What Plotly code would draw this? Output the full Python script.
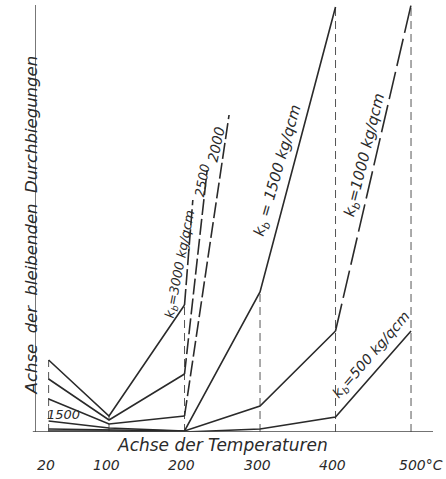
import plotly.graph_objects as go

# ---- data (temperature in °C, deflection in arbitrary units) ----
temps_3000 = [20, 100, 200, 211]
defl_3000 = [72, 16, 127, 232]
temps_2500 = [20, 100, 200, 230]
defl_2500 = [53, 12, 58, 262]
temps_2000 = [20, 100, 200, 259]
defl_2000 = [33, 8, 16, 317]
temps_1500 = [20, 100, 200, 300, 400]
defl_1500 = [11, 4, 1, 140, 425]
temps_1000 = [20, 100, 200, 300, 400, 500]
defl_1000 = [3, 2, 1, 26, 101, 427]
temps_500 = [20, 100, 200, 300, 400, 500]
defl_500 = [1, 1, 0, 3, 15, 101]

tick_values = [20, 100, 200, 300, 400, 500]
tick_labels = ["20", "100", "200", "300", "400", "500°C"]
x_title = "Achse der Temperaturen"
y_title = "Achse  der  bleibenden  Durchbiegungen"

series = [
    ("3000", temps_3000, defl_3000, 2),
    ("2500", temps_2500, defl_2500, 2),
    ("2000", temps_2000, defl_2000, 2),
    ("1500", temps_1500, defl_1500, None),
    ("1000", temps_1000, defl_1000, 4),
    ("500", temps_500, defl_500, None),
]

INK = "#2a2a2a"
FONT = "DejaVu Sans"

fig = go.Figure()

# vertical dashed reference lines at each temperature, up to highest curve value
for t in tick_values:
    top = 0
    for _, ts, ys, _ in series:
        if t in ts:
            top = max(top, ys[ts.index(t)])
    fig.add_trace(go.Scatter(x=[t, t], y=[0, top], mode="lines",
                             line=dict(color="#555555", width=1, dash="8px,5px"),
                             hoverinfo="skip", showlegend=False))

for name, ts, ys, split in series:
    if split is None:
        fig.add_trace(go.Scatter(x=ts, y=ys, mode="lines", name=name,
                                 line=dict(color=INK, width=1.6), showlegend=False))
    else:
        fig.add_trace(go.Scatter(x=ts[:split + 1], y=ys[:split + 1], mode="lines", name=name,
                                 line=dict(color=INK, width=1.6), showlegend=False))
        dash = "28px,6px" if name == "1000" else "16px,4px"
        fig.add_trace(go.Scatter(x=ts[split:], y=ys[split:], mode="lines", name=name,
                                 line=dict(color=INK, width=1.6, dash=dash), showlegend=False))

annotations = []
# tick labels
for v, txt in zip(tick_values, tick_labels):
    annotations.append(dict(x=v, y=0, xref="x", yref="y", text=txt, showarrow=False,
                            xanchor="left" if txt.endswith("C") else "center",
                            xshift=-14 if txt.endswith("C") else -3, yshift=-33,
                            font=dict(family=FONT, size=14, color=INK, style="italic")))
# axis titles
annotations.append(dict(x=0.47, y=0, xref="paper", yref="y", text=x_title, showarrow=False,
                        yshift=-13, font=dict(family=FONT, size=17, color=INK, style="italic")))
annotations.append(dict(x=0, y=0.485, xref="paper", yref="paper", text=y_title, showarrow=False,
                        xshift=-16, textangle=-90,
                        font=dict(family=FONT, size=16.5, color=INK, style="italic")))

# curve labels: text, x (°C), y, angle, font size
curve_labels = [
    ("k<sub>b</sub>=3000 kg/qcm", 194, 168, -79, 13),
    ("2500", 223, 252, -80, 13),
    ("2000", 242, 288, -78, 14),
    ("k<sub>b</sub> = 1500 kg/qcm", 323, 262, -74, 15),
    ("k<sub>b</sub>=1000 kg/qcm", 438, 277, -76, 15),
    ("k<sub>b</sub>=500 kg/qcm", 448, 77, -49, 14),
    ("1500", 40, 18, 0, 13),
]
for txt, x, y, ang, size in curve_labels:
    annotations.append(dict(x=x, y=y, xref="x", yref="y", text=txt, showarrow=False,
                            textangle=ang,
                            font=dict(family=FONT, size=size, color=INK, style="italic")))

fig.update_layout(
    width=446, height=479,
    margin=dict(l=36, r=13, t=5, b=47),
    paper_bgcolor="white", plot_bgcolor="white",
    xaxis=dict(range=[3.3, 529.1], showgrid=False, zeroline=False, showticklabels=False,
               ticks="", showline=False),
    yaxis=dict(range=[0, 427], showgrid=False, zeroline=False, showticklabels=False,
               ticks="", showline=True, linecolor="#777777", linewidth=1),
    annotations=annotations,
    shapes=[dict(type="line", xref="paper", yref="y", x0=-0.008, x1=1.0, y0=0, y1=0,
                 line=dict(color="#444444", width=1.5))],
)

fig.write_html("out.html", config={"displayModeBar": False},
               post_script="document.body.style.margin='0';")
